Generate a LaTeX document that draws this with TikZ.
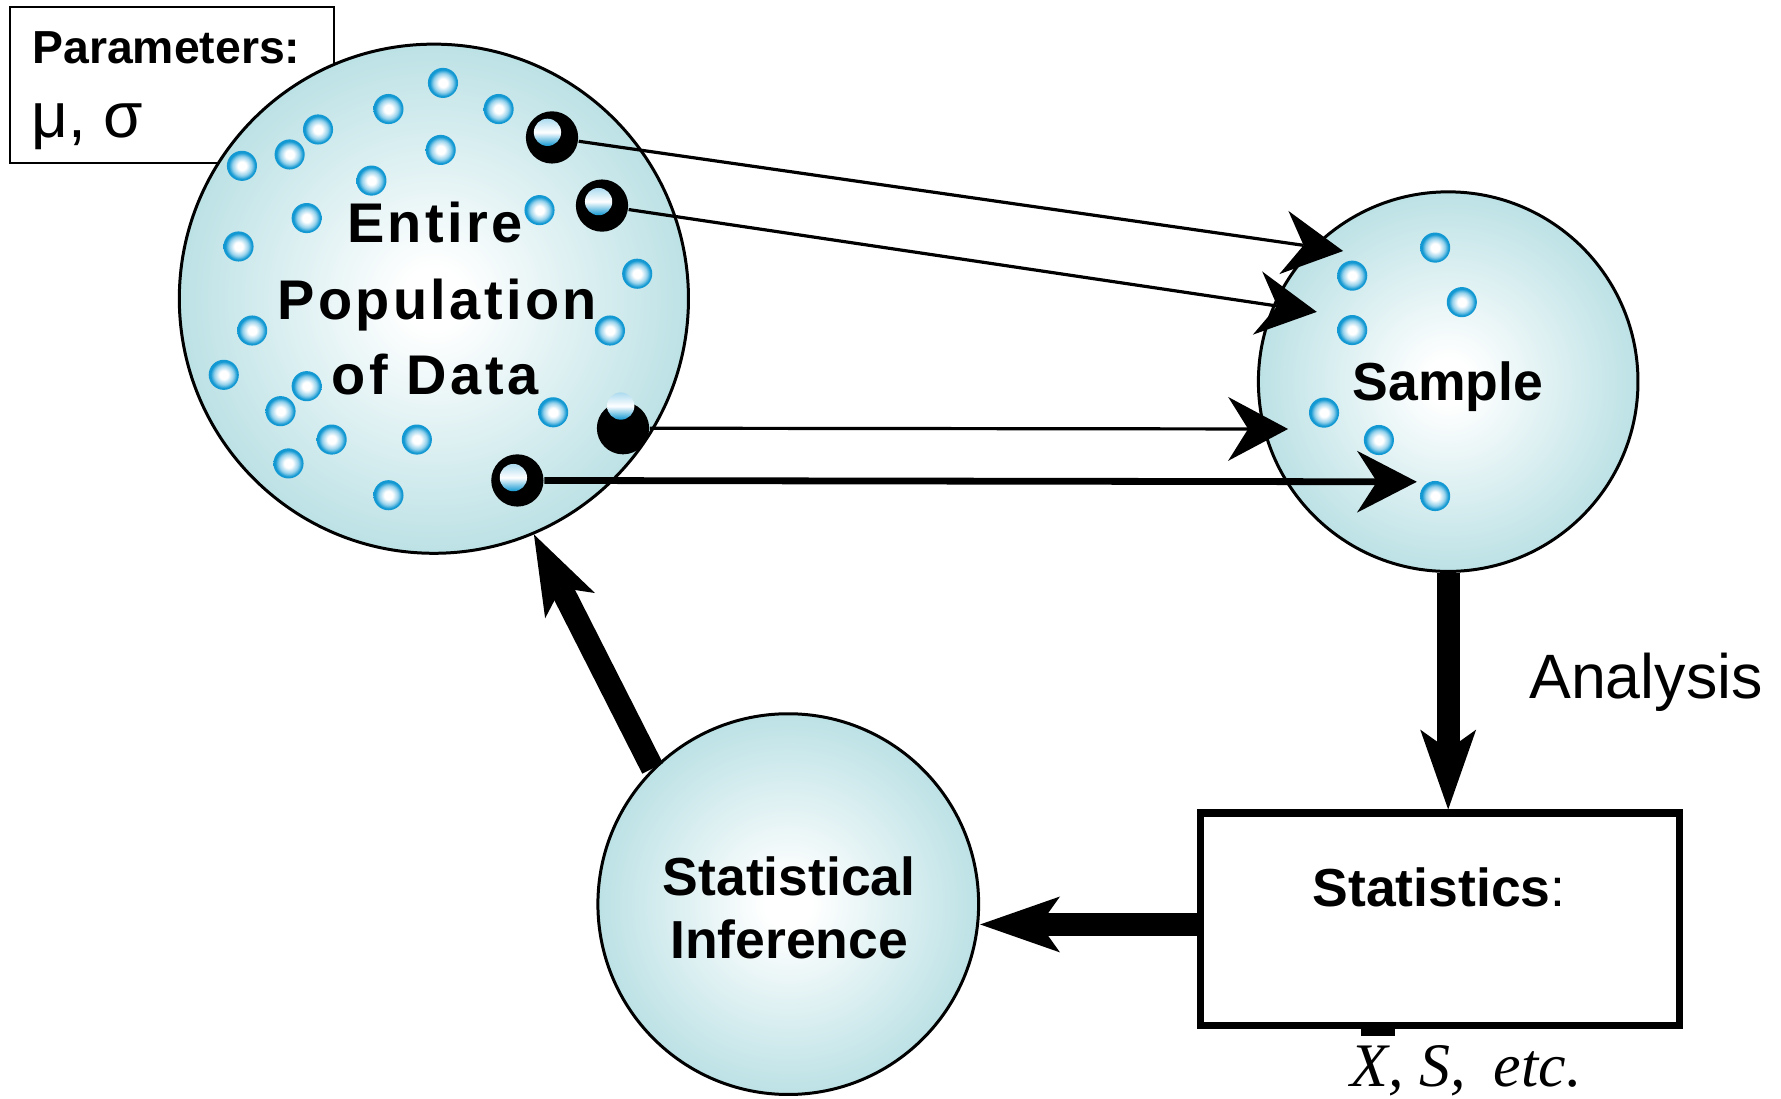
\documentclass[tikz,border=0pt]{standalone}
\usepackage{fontspec}
\setmainfont{Liberation Sans}
\newfontfamily\spacedsans[LetterSpace=6]{Liberation Sans}
\newfontfamily\timesfont{Liberation Serif}
\usetikzlibrary{arrows.meta}
\definecolor{ballfill}{RGB}{185,224,228}
\definecolor{dotblue}{RGB}{18,152,210}
\pgfdeclareradialshading{ballshade}{\pgfpoint{0bp}{0bp}}{color(0bp)=(white); color(3bp)=(white); color(26bp)=(ballfill); color(50bp)=(ballfill)}
\pgfdeclareradialshading{dotshade}{\pgfpoint{0bp}{0bp}}{color(0bp)=(white); color(7bp)=(white); color(16bp)=(dotblue!45!white); color(22bp)=(dotblue); color(50bp)=(dotblue)}
\tikzset{
  ball/.style={circle, draw=black, line width=0.75pt, shade, shading=ballshade, inner sep=0pt},
  popdot/.style={circle, shade, shading=dotshade, minimum size=0.265cm, inner sep=0pt},
  selring/.style={circle, fill=black, minimum size=0.46cm, inner sep=0pt},
  selcore/.style={circle, top color=white!65!dotblue, bottom color=dotblue, middle color=white, minimum size=0.24cm, inner sep=0pt},
  thinarrow/.style={line width=0.8pt, -{Stealth[length=15pt, width=16pt, inset=5pt, line width=0pt]}},
  medarrow/.style={line width=1.7pt, -{Stealth[length=15pt, width=15.5pt, inset=5pt, line width=0pt]}},
  thickarrow/.style={line width=5.8pt, -{Stealth[length=20pt, width=14pt, inset=5pt, line width=0pt]}},
  lbl/.style={inner sep=0pt},
  bigbold/.style={lbl, anchor=base, font=\spacedsans\fontsize{14}{16}\selectfont\bfseries},
  midbold/.style={lbl, anchor=base, font=\fontsize{13.4}{16}\selectfont\bfseries}
}
\begin{document}
\begin{tikzpicture}[x=0.01cm, y=-0.01cm]
\useasboundingbox (0,0) rectangle (1568,967);

% parameters box
\node[draw, line width=0.35pt, minimum width=2.85cm, minimum height=1.375cm, inner sep=0pt] (param) at (151.4,74.8) {};
\node[lbl, anchor=base west, font=\fontsize{11.6}{14}\selectfont\bfseries] (ptitle) at (27.9,55.8) {Parameters:};
\node[lbl, anchor=base west, font=\fontsize{16}{19}\selectfont] (pvals) at (27,121) {μ, σ};

% population
\node[ball, minimum size=4.48cm] (pop) at (382,263) {};
\foreach \p [count=\i] in {(390,73),(342,96),(439,96),(280,114),(255,136),(213,146),(388,132),(327,159),(475,185),(270,192),(210,217),(561,241),(222,291),(537,291),(197,330),(270,340),(247,362),(487,363),(292,387),(367,387),(254,408),(342,436)}
  \node[popdot] (d\i) at \p {};
\node[bigbold] (pt1) at (383,213.5) {Entire};
\node[bigbold] (pt2) at (385,281) {Population};
\node[bigbold] (pt3) at (383,347) {of Data};

% selected data points
\node[selring] (s1) at (486,121) {};
\node[selcore] (c1) at (482,116.5) {};
\node[selring] (s2) at (530,181) {};
\node[selcore] (c2) at (527,177.5) {};
\node[selring] (s3) at (548.5,377) {};
\node[selcore] (c3) at (546.5,357.5) {};
\node[selring] (s4) at (455.5,423) {};
\node[selcore] (c4) at (452,420.5) {};

% sample
\node[ball, minimum size=3.34cm] (sample) at (1275,336) {};
\foreach \p [count=\i] in {(1263.5,218),(1190.5,242.7),(1287,266),(1190.5,290.6),(1165.7,363.3),(1214,387.4),(1263.5,436.7)}
  \node[popdot] (e\i) at \p {};
\node[midbold] (sampletext) at (1274.8,352.8) {Sample};

% statistical inference
\node[ball, minimum size=3.35cm] (inference) at (694,796) {};
\node[midbold] (inf1) at (694.8,788) {Statistical};
\node[midbold] (inf2) at (694.8,843.7) {Inference};

% statistics box
\node[draw, line width=1.8pt, minimum width=4.22cm, minimum height=1.87cm, inner sep=0pt] (stats) at (1267.8,809.4) {};
\node[lbl, anchor=base west, font=\fontsize{13.4}{16}\selectfont] (statstext) at (1155,798.3) {\bfseries Statistics\mdseries:};
\node[lbl, anchor=base west, font=\timesfont\itshape\fontsize{15.5}{18}\selectfont] (statsyms) at (1188.6,957) {X, S,\hspace{0.45em}etc.};
\fill (1198.3,905) rectangle (1228.2,912.2);

\node[lbl, anchor=base west, font=\fontsize{15.7}{19}\selectfont] (analysis) at (1345.6,614.8) {Analysis};

% sampling arrows
\coordinate (t1) at (1182.5,221);
\coordinate (t2) at (1159.3,274.6);
\coordinate (t3) at (1134,377.7);
\coordinate (t4) at (1247.4,424.2);
\draw[thinarrow] (s1) -- (t1);
\draw[thinarrow] (s2) -- (t2);
\draw[thinarrow] (s3) -- (t3);
\draw[medarrow] (s4) -- (t4);

% cycle arrows
\draw[thickarrow] (sample.south) -- (sample.south |- stats.north);
\coordinate (sw) at ([yshift=-0.045cm]stats.west);
\draw[thickarrow] (sw) -- (inference.east |- sw);
\draw[thickarrow] (inference.135.6) -- (pop.-67.5);
\end{tikzpicture}
\end{document}
